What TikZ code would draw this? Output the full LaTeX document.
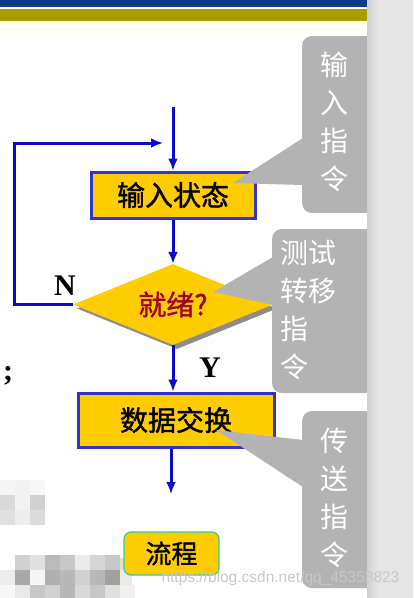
\documentclass[tikz,border=0pt]{standalone}
\usepackage{fontspec}
\newfontfamily\cjk{Noto Sans CJK SC}
\newfontfamily\cjkm[FakeBold=1.3]{Noto Sans CJK SC}
\newfontfamily\tms{Liberation Serif}
\newfontfamily\arl{Liberation Sans}
\usepackage{tikz}
\usetikzlibrary{arrows.meta,shapes.geometric}

\definecolor{flowblue}{HTML}{0A0ACC}
\definecolor{boxblue}{HTML}{3333CC}
\definecolor{boxyellow}{HTML}{FFCC00}
\definecolor{callgray}{HTML}{B3B3B3}
\definecolor{askred}{HTML}{A0002A}
\definecolor{bannerblue}{HTML}{123C86}
\definecolor{bandolive}{HTML}{A99E00}
\definecolor{endgreen}{HTML}{33CC99}

\tikzset{
	flow/.style={draw=flowblue, line width=3pt, -{Latex[length=12pt,width=10pt]}},
	stepbox/.style={rectangle, draw=boxblue, line width=3pt, fill=boxyellow, inner sep=0pt,
		font=\cjkm\fontsize{28}{28}\selectfont},
	callout/.style={fill=callgray},
	calltext/.style={text=white, inner sep=0pt, font=\cjk\fontsize{28}{38}\selectfont},
	yn/.style={font=\tms\bfseries\fontsize{30}{30}\selectfont}
}

\begin{document}
\begin{tikzpicture}[x=1pt, y=-1pt]
				
				\useasboundingbox (0,0) rectangle (413,598);
				
				% banner
				\fill[bannerblue] (0,0) rectangle (367,7);
				\fill[white] (0,7) rectangle (367,9);
				\fill[bandolive] (0,9) rectangle (367,21);
				\shade[top color=yellow!6, bottom color=white] (0,21) rectangle (367,40);
				
				% mosaic
				\fill[black!4] (0,480) rectangle ++(15,15);
				\fill[black!5] (15,480) rectangle ++(15,15);
				\fill[black!3] (30,480) rectangle ++(15,15);
				\fill[black!15] (0,495) rectangle ++(15,15);
				\fill[black!5] (15,495) rectangle ++(15,15);
				\fill[black!18] (30,495) rectangle ++(15,15);
				\fill[black!12] (0,510) rectangle ++(15,15);
				\fill[black!7] (15,510) rectangle ++(15,15);
				\fill[black!14] (30,510) rectangle ++(15,15);
				
				\fill[black!18] (15,555) rectangle ++(15,15);
				\fill[black!12] (30,555) rectangle ++(15,15);
				\fill[black!27] (45,555) rectangle ++(15,15);
				\fill[black!22] (60,555) rectangle ++(15,15);
				\fill[black!8] (75,555) rectangle ++(15,15);
				\fill[black!16] (90,555) rectangle ++(15,15);
				\fill[black!22] (105,555) rectangle ++(15,15);
				\fill[yellow!60!black!30] (120,558) rectangle ++(6,12);
				\fill[black!7] (0,570) rectangle ++(15,15);
				\fill[black!34] (15,570) rectangle ++(15,15);
				\fill[black!4] (30,570) rectangle ++(15,15);
				\fill[black!31] (45,570) rectangle ++(15,15);
				\fill[black!28] (60,570) rectangle ++(15,15);
				\fill[black!18] (75,570) rectangle ++(15,15);
				\fill[black!28] (90,570) rectangle ++(15,15);
				\fill[black!37] (105,570) rectangle ++(15,15);
				\fill[yellow!20!black!12] (120,570) rectangle ++(12,15);
				\fill[black!3] (0,585) rectangle ++(15,13);
				\fill[black!9] (15,585) rectangle ++(15,13);
				\fill[black!22] (30,585) rectangle ++(15,13);
				\fill[black!18] (45,585) rectangle ++(15,13);
				\fill[black!28] (60,585) rectangle ++(15,13);
				\fill[black!15] (75,585) rectangle ++(15,13);
				\fill[black!22] (90,585) rectangle ++(15,13);
				\fill[black!12] (105,585) rectangle ++(15,13);
				\fill[black!6] (120,585) rectangle ++(15,13);
				
				% flow chart
				\node[stepbox, minimum width=164pt, minimum height=46pt] (zt) at (173,195) {输入状态};
				\node[diamond, fill=black!45, aspect=2.44, minimum width=200pt, minimum height=81pt, inner sep=0pt] (jxs) at (177,308.5) {};
				\node[diamond, fill=boxyellow, aspect=2.44, minimum width=200pt, minimum height=81pt, inner sep=0pt,
					text=askred, font=\cjkm\fontsize{28}{28}\selectfont] (jx) at (173,304.5) {就绪?};
				\node[stepbox, minimum width=196pt, minimum height=54pt] (sj) at (176,420) {数据交换};
				\node[rectangle, rounded corners=7pt, draw=endgreen, line width=1.2pt, fill=boxyellow,
					minimum width=95pt, minimum height=43pt, font=\cjkm\fontsize{26}{26}\selectfont] (lc) at (171.5,553.5) {流程};
				
				\coordinate (in) at (173,107);
				\coordinate (lt) at (14,143);
				\coordinate (lr) at (163,143);
				\coordinate (out) at (171,494);
				
				\draw[flow] (in) -- (zt.north);
				\draw[flow] (zt.south) -- (jx.north);
				\draw[flow] (jx.south) -- (jx.south |- sj.north);
				\draw[flow] (out |- sj.south) -- (out);
				\draw[flow] (jx.west) -| (lt) -- (lr);
				
				\node[yn] (N) at (65,286) {N};
				\node[yn] (Y) at (210,368) {Y};
				\node[yn] (semi) at (8,376) {;};
				
				% callouts
				\fill[callout, rounded corners=10pt] (302,36) rectangle (390,213);
				\fill[callout] (233,183) -- (303,138) -- (303,185) -- cycle;
				\node[calltext, align=center] (c1) at (334,122) {输\\入\\指\\令};
				
				\fill[callout, rounded corners=10pt] (272,229) rectangle (390,393);
				\fill[callout] (213,292) -- (273,257) -- (273,305) -- cycle;
				\node[calltext, align=left, anchor=west] (c2) at (280,310) {测试\\转移\\指\\令};
				
				\fill[callout, rounded corners=10pt] (302,411) rectangle (390,588);
				\fill[callout] (216,430) -- (303,440) -- (303,487) -- cycle;
				\node[calltext, align=center] (c3) at (334,498) {传\\送\\指\\令};
				
				% right strip
				\fill[black!10] (367,0) rectangle (413,598);
				\shade[left color=black!18, right color=black!10] (367,0) rectangle (378,598);
				
				\node[text=black!22, font=\arl\fontsize{15.5}{15.5}\selectfont, anchor=west] (wm) at (158,578) {https://blog.csdn.net/qq\_45353823};
				
			\end{tikzpicture}
\end{document}
